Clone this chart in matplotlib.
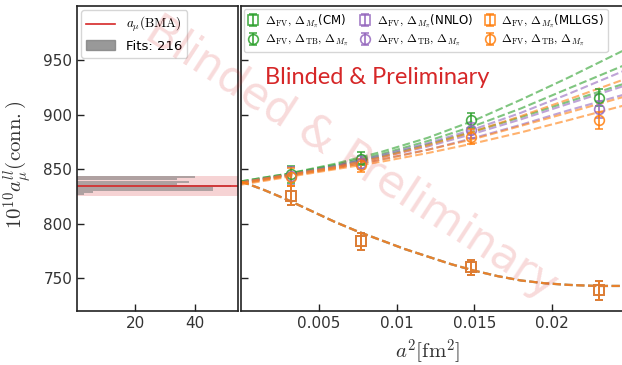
import matplotlib
matplotlib.use("Agg")
import matplotlib.pyplot as plt
from matplotlib.patches import Patch
from matplotlib.lines import Line2D

plt.rcParams['mathtext.fontset'] = 'cm'
plt.rcParams['font.family'] = ['DejaVu Sans']

# ---------------- data ----------------
a2_data = [0.0032, 0.0077, 0.0148, 0.0230]
sq_vals = [826, 784, 760, 739]
sq_err = [9, 8, 7, 9]
circ_green = [845.5, 860, 895, 916]
circ_purple = [844, 856, 886, 905]
circ_orange = [843, 854, 880, 895]
circ_err = [8, 6, 7, 8]

a2_curve = [0.0, 0.003, 0.006, 0.009, 0.012, 0.015, 0.018, 0.021, 0.0247]
green_curves = [
    [839, 846, 855, 866, 879, 895, 914, 934, 960],
    [839, 846, 854, 864, 876, 890, 906, 924, 946],
    [838, 845, 853, 862, 873, 885, 898, 912, 929],
]
purple_curves = [
    [838, 845, 853, 863, 874, 887, 902, 919, 941],
    [838, 845, 852, 861, 871, 883, 896, 910, 927],
    [837, 844, 851, 859, 868, 879, 891, 904, 919],
]
orange_curves = [
    [838, 845, 852, 861, 872, 885, 899, 914, 933],
    [837, 844, 851, 859, 868, 878, 890, 902, 917],
    [836, 843, 850, 857, 865, 874, 884, 895, 909],
]
a2_lower = [0.0, 0.0015, 0.003, 0.0045, 0.006, 0.0075, 0.009, 0.0105, 0.012,
            0.0135, 0.015, 0.0165, 0.018, 0.0195, 0.021, 0.0228, 0.0247]
lower_curve = [839, 831, 822, 812, 802, 793, 785, 777, 770,
               763, 757, 752, 748, 745.5, 744, 743, 743]

hist_centers = [842.9, 840.8, 838.7, 836.8, 835.0, 833.2, 831.3, 829.5, 827.7]
hist_counts = [40, 34, 38, 34, 52, 46, 46, 6, 3]
bma_value = 834.5
bma_err = 9.2
n_fits = 216

labels_sq = [r"$\Delta_{\rm FV},\,\Delta_{M_\pi}$(CM)",
             r"$\Delta_{\rm FV},\,\Delta_{M_\pi}$(NNLO)",
             r"$\Delta_{\rm FV},\,\Delta_{M_\pi}$(MLLGS)"]
label_circ = r"$\Delta_{\rm FV},\,\Delta_{\rm TB},\,\Delta_{M_\pi}$"

GREEN, PURPLE, ORANGE = '#2ca02c', '#9467bd', '#ff7f0e'
RED = '#d62728'
SPINE = '#222222'
TXT = '#333333'

W, H = 622, 365
fig = plt.figure(figsize=(W / 100, H / 100), dpi=100)

ax_l = fig.add_axes([77 / W, (H - 311) / H, (238 - 77) / W, (311 - 6) / H])
ax_r = fig.add_axes([241 / W, (H - 311) / H, (625 - 241) / W, (311 - 6) / H], sharey=ax_l)

# ---------------- left panel ----------------
ax_l.axhspan(bma_value - bma_err, bma_value + bma_err, color=RED, alpha=0.2, lw=0)
ax_l.barh(hist_centers, hist_counts, height=1.9, color='gray', alpha=0.6, lw=0)
ax_l.axhline(bma_value, color=RED, lw=1.2)
ax_l.set_xlim(0.67, 54.3)
ax_l.set_ylim(720, 1000)
ax_l.set_xticks([20, 40])
ax_l.set_yticks([750, 800, 850, 900, 950])
ax_l.set_ylabel(r"$10^{10}a_\mu^{ll}(\mathrm{conn.})$", fontsize=15, color=TXT)
ax_l.yaxis.set_label_coords(-0.27, 0.48)
h_l = [Line2D([], [], color=RED, lw=1.2), Patch(color='gray', alpha=0.8)]
leg_l = ax_l.legend(h_l, [r"$a_\mu(\mathrm{BMA})$", f"Fits: {n_fits}"], loc='upper left',
                    fontsize=9.5, frameon=True, handlelength=2.2, borderaxespad=0.3,
                    labelspacing=0.4)
leg_l.get_frame().set_edgecolor('#cccccc')

# ---------------- right panel ----------------
for col in (GREEN, PURPLE):
    ax_r.plot(a2_lower, lower_curve, ls='--', color=col, lw=1.6, alpha=0.6)
for curves, col in ((green_curves, GREEN), (purple_curves, PURPLE), (orange_curves, ORANGE)):
    for c in curves:
        ax_r.plot(a2_curve, c, ls='--', color=col, lw=1.5, alpha=0.6)
ax_r.plot(a2_lower, lower_curve, ls='--', color=ORANGE, lw=1.6, alpha=0.8)

handles = []
for col, circ, lab in ((GREEN, circ_green, labels_sq[0]), (PURPLE, circ_purple, labels_sq[1]),
                       (ORANGE, circ_orange, labels_sq[2])):
    hs = ax_r.errorbar(a2_data, sq_vals, yerr=sq_err, fmt='s', mfc='none', mec=col, ecolor=col,
                       ms=7, mew=1.2, elinewidth=1.3, capsize=3, capthick=1.3, alpha=0.85)
    hc = ax_r.errorbar(a2_data, circ, yerr=circ_err, fmt='o', mfc='none', mec=col, ecolor=col,
                       ms=7, mew=1.2, elinewidth=1.3, capsize=3, capthick=1.3, alpha=0.85)
    handles.append((hs, lab))
    handles.append((hc, label_circ))

leg_r = ax_r.legend([h for h, _ in handles], [l for _, l in handles], ncol=3, loc='upper left',
                    fontsize=8.5, frameon=True, handlelength=1.0, handletextpad=0.5,
                    columnspacing=0.9, borderaxespad=0.25, labelspacing=0.25,
                    borderpad=0.3, bbox_to_anchor=(0.0, 1.0))
leg_r.get_frame().set_edgecolor('#cccccc')

ax_r.set_xlim(0, 0.02468)
ax_r.set_xticks([0.005, 0.01, 0.015, 0.02])
ax_r.set_xticklabels(["0.005", "0.01", "0.015", "0.02"])
ax_r.tick_params(axis='y', labelleft=False)
ax_r.set_xlabel(r"$a^2[\mathrm{fm}^2]$", fontsize=15, color=TXT)
ax_r.xaxis.set_label_coords(0.485, -0.085)

ax_r.text(0.063, 0.764, "Blinded & Preliminary", transform=ax_r.transAxes, color=RED,
          fontsize=17, family='Lato', va='center', ha='left')

for ax in (ax_l, ax_r):
    for s in ax.spines.values():
        s.set_color(SPINE)
        s.set_linewidth(1.2)
    ax.tick_params(direction='in', length=5, width=1.0, colors=SPINE, labelcolor=TXT,
                   labelsize=11)
ax_r.spines['right'].set_visible(False)

# watermark
fig.text(352 / W, 1 - 158 / H, "Blinded & Preliminary", rotation=-33, color=RED, alpha=0.17,
         fontsize=32, ha='center', va='center', rotation_mode='anchor')

fig.savefig("out.png", dpi=100)
